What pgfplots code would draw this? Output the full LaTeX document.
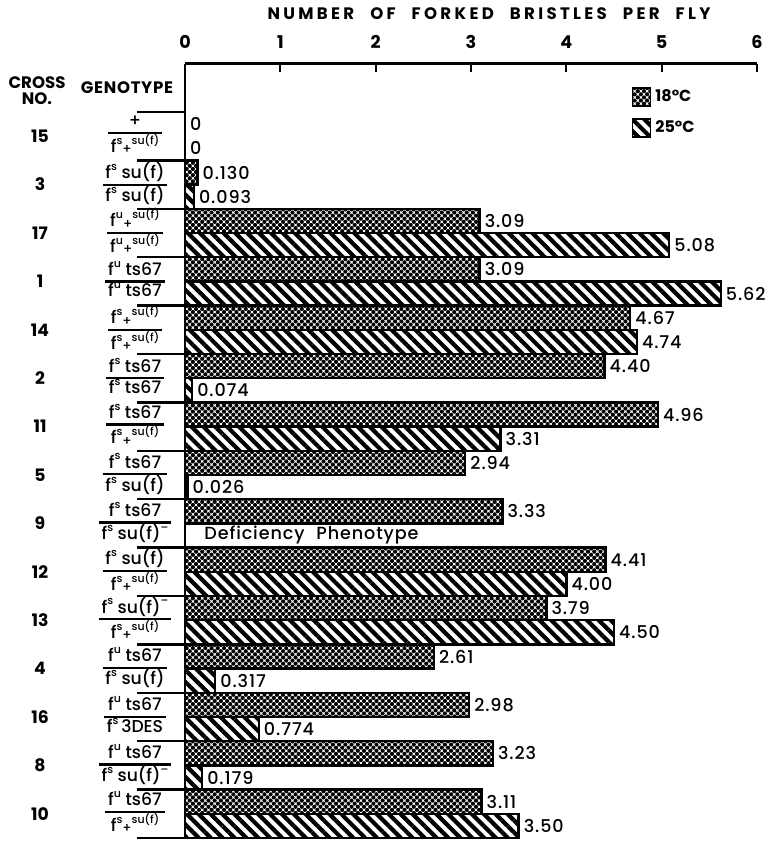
\documentclass[border=0pt]{standalone}
\usepackage{fontspec}
\setmainfont{Poppins}
\newfontfamily\med{Poppins Medium}
\usepackage{pgfplots}
\pgfplotsset{compat=1.18}
\usetikzlibrary{patterns.meta}

\newcommand{\sps}[1]{\raisebox{0.85ex}{\fontsize{5.5}{5.5}\selectfont #1}}
\newcommand{\pl}{\raisebox{-0.15ex}{\fontsize{6.5}{6.5}\selectfont +}}
\newcommand{\fs}{f\sps{s}}
\newcommand{\fu}{f\sps{u}}
\newcommand{\splus}{\pl\sps{su(f)}}
\newcommand{\minus}{\sps{\textendash}}
\newcommand{\lab}{\med\fontsize{8.8}{9}\selectfont\addfontfeature{LetterSpace=5}}
\newcommand{\geno}[3]{\node[font=\med\fontsize{8.6}{9}\selectfont, inner sep=0pt] at (135,#1) {\renewcommand\arraystretch{0.92}\setlength\arrayrulewidth{1.1pt}\begin{tabular}{@{\,}c@{\,}}#2\\\hline #3\end{tabular}};}

\begin{document}
\begin{tikzpicture}
\path[use as bounding box] (0,0) rectangle (385.5pt,-420.5pt);
\begin{axis}[
  at={(92.5pt,-419pt)}, anchor=south west,
  width=286pt, height=387.2pt, scale only axis,
  xmin=0, xmax=6, ymin=-15, ymax=1,
  axis x line*=top, axis y line*=left,
  axis line style={line width=1.3pt, -},
  xtick={0,...,6}, ytick=\empty,
  tick align=inside, major tick length=4pt,
  tick style={line width=1pt, black},
  xticklabel style={font=\bfseries\fontsize{8.8}{9}\selectfont, yshift=4pt},
  /pgf/number format/assume math mode=true,
  clip=false,
  xbar, bar shift=0pt, bar width=0.5,
  nodes near coords, point meta=explicit symbolic,
  nodes near coords style={font=\lab, anchor=west, inner sep=2pt},
  legend style={at={(rel axis cs:0.77,0.977)}, anchor=north west, draw=none, fill=none,
    font=\bfseries\fontsize{8}{9}\selectfont, row sep=4pt, legend cell align=left},
  legend image code/.code={\draw[#1, line width=0.8pt] (0pt,-4.5pt) rectangle (9pt,4.5pt);},
]
\addplot[draw=black, line width=1.2pt, pattern={Dots[angle=45, distance=2.2pt, radius=1.05pt]}]
coordinates {
(0,-0.25)[0] (0.130,-1.25)[0.130] (3.09,-2.25)[3.09] (3.09,-3.25)[3.09]
(4.67,-4.25)[4.67] (4.40,-5.25)[4.40] (4.96,-6.25)[4.96] (2.94,-7.25)[2.94]
(3.33,-8.25)[3.33] (4.41,-9.25)[4.41] (3.79,-10.25)[3.79] (2.61,-11.25)[2.61]
(2.98,-12.25)[2.98] (3.23,-13.25)[3.23] (3.11,-14.25)[3.11]
};
\addlegendentry{18°C}
\addplot[draw=black, line width=1.2pt, pattern={Lines[angle=-45, distance=4.2pt, line width=2.1pt]}]
coordinates {
(0,-0.75)[0] (0.093,-1.75)[0.093] (5.08,-2.75)[5.08] (5.62,-3.75)[5.62]
(4.74,-4.75)[4.74] (0.074,-5.75)[0.074] (3.31,-6.75)[3.31] (0.026,-7.75)[0.026]
(4.00,-9.75)[4.00] (4.50,-10.75)[4.50] (0.317,-11.75)[0.317]
(0.774,-12.75)[0.774] (0.179,-13.75)[0.179] (3.50,-14.75)[3.50]
};
\addlegendentry{25°C}
\node[font=\lab, anchor=west] at (axis cs:0.13,-8.75) {Deficiency\hspace{6pt}Phenotype};
\pgfplotsinvokeforeach{0,...,15}{\draw[line width=1.2pt] (axis cs:-0.504,-#1) -- (axis cs:0,-#1);}
\end{axis}
\begin{scope}[x=0.5pt,y=-0.5pt]
\node[font=\bfseries\fontsize{8.3}{9}\selectfont\addfontfeature{LetterSpace=20}] at (489,14) {NUMBER\hspace{8pt}OF\hspace{8pt}FORKED\hspace{8pt}BRISTLES\hspace{8pt}PER\hspace{8pt}FLY};
\node[font=\bfseries\fontsize{8.3}{9}\selectfont, align=center, inner sep=0pt] at (37,91) {CROSS\\[-1pt]NO.};
\node[font=\bfseries\fontsize{8.3}{9}\selectfont\addfontfeature{LetterSpace=4}, inner sep=0pt] at (127,88) {GENOTYPE};
\foreach \n/\y in {15/136.2,3/184.6,17/233.0,1/281.4,14/329.8,2/378.2,11/426.6,5/475.0,9/523.4,12/571.8,13/620.2,4/668.6,16/717.0,8/765.4,10/813.8}
  {\node[font=\bfseries\fontsize{8.6}{9}\selectfont] at (40,\y) {\n};}
\geno{136.2}{+}{\fs\splus}
\geno{184.6}{\fs\ su(f)}{\fs\ su(f)}
\geno{233.0}{\fu\splus}{\fu\splus}
\geno{281.4}{\fu\ ts67}{\fu\ ts67}
\geno{329.8}{\fs\splus}{\fs\splus}
\geno{378.2}{\fs\ ts67}{\fs\ ts67}
\geno{426.6}{\fs\ ts67}{\fs\splus}
\geno{475.0}{\fs\ ts67}{\fs\ su(f)}
\geno{523.4}{\fs\ ts67}{\fs\ su(f)\minus}
\geno{571.8}{\fs\ su(f)}{\fs\splus}
\geno{620.2}{\fs\ su(f)\minus}{\fs\splus}
\geno{668.6}{\fu\ ts67}{\fs\ su(f)}
\geno{717.0}{\fu\ ts67}{\fs\,3DES}
\geno{765.4}{\fu\ ts67}{\fs\ su(f)\minus}
\geno{813.8}{\fu\ ts67}{\fs\splus}
\end{scope}
\end{tikzpicture}
\end{document}
